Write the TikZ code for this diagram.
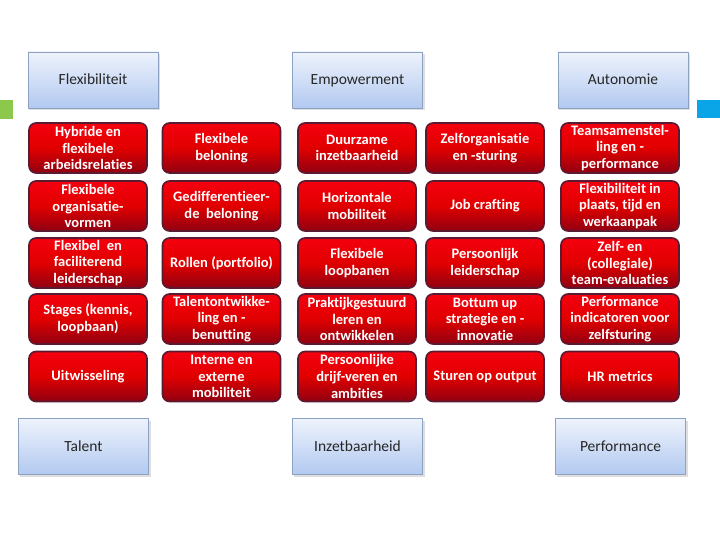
\documentclass[tikz,border=0pt]{standalone}
\usepackage{fontspec}
\setmainfont{Carlito}[Ligatures=NoCommon]
\usetikzlibrary{backgrounds}
\definecolor{redtop}{HTML}{F5000F}
\definecolor{redbot}{HTML}{900012}
\definecolor{redborder}{HTML}{5A1A30}
\definecolor{bluetop}{HTML}{EEF3FC}
\definecolor{bluebot}{HTML}{B2C9F0}
\definecolor{blueborder}{HTML}{8DA2C2}
\definecolor{glowc}{HTML}{8DB8EC}
\definecolor{greensq}{HTML}{8CC84B}
\definecolor{bluesq}{HTML}{0AA5E6}
\tikzset{
  redbox/.style={draw=redborder, line width=1.6pt, rounded corners=7pt,
    top color=redtop, bottom color=redbot, middle color=red!88!black,
    minimum width=118pt, minimum height=50pt, inner sep=0pt,
    text=white, align=center,
    font=\fontsize{14.5}{16.6}\selectfont\bfseries},
  catbox/.style={draw=blueborder, line width=0.8pt,
    top color=bluetop, bottom color=bluebot,
    minimum width=130pt, minimum height=56pt, inner sep=0pt,
    text height=10.5pt, text depth=1pt,
    text=black!85, font=\fontsize{15.5}{18}\selectfont},
}
\begin{document}
\begin{tikzpicture}[x=1pt,y=-1pt]
\useasboundingbox (0,0) rectangle (720,540);
\fill[white] (0,0) rectangle (720,540);
% side squares
\fill[greensq] (0,100) rectangle (13,119) coordinate (gsq);
\fill[bluesq] (697,100) rectangle (720,118) coordinate (bsq);
% category boxes
\foreach \n/\x/\y/\t in {flex/93/80/Flexibiliteit, emp/357.5/80/Empowerment, aut/623/80/Autonomie,
  tal/83.5/446.5/Talent, inz/357.5/446.5/Inzetbaarheid, perf/620.5/446.5/Performance}{
  \fill[black!25,opacity=0.5] (\x-64,\y-26) rectangle (\x+67,\y+30);
  \node[catbox] (\n) at (\x,\y) {\t};
}
% red boxes
\foreach \n/\x/\y/\t in {
  a1/88/148/{Hybride en\\flexibele\\arbeidsrelaties},
  a2/88/206/{Flexibele\\organisatie-\\vormen},
  a3/88/263/{Flexibel\ \ en\\faciliterend\\leiderschap},
  a4/88/319/{Stages (kennis,\\loopbaan)},
  a5/88/376.5/{Uitwisseling},
  b1/221.5/148/{Flexibele\\beloning},
  b2/221.5/206/{Gedifferentieer-\\de\ \ beloning},
  b3/221.5/263/{Rollen (portfolio)},
  b4/221.5/319/{Talentontwikke-\\ling en -\\benutting},
  b5/221.5/376.5/{Interne en\\externe\\mobiliteit},
  c1/357/148/{Duurzame\\inzetbaarheid},
  c2/357/206/{Horizontale\\mobiliteit},
  c3/357/263/{Flexibele\\loopbanen},
  c4/357/319/{Praktijkgestuurd\\leren en\\ontwikkelen},
  c5/357/376.5/{Persoonlijke\\drijf-veren en\\ambities},
  d1/485/148/{Zelforganisatie\\en -sturing},
  d2/485/206/{Job crafting},
  d3/485/263/{Persoonlijk\\leiderschap},
  d4/485/319/{Bottum up\\strategie en -\\innovatie},
  d5/485/376.5/{Sturen op output},
  e1/620/148/{Teamsamenstel-\\ling en -\\performance},
  e2/620/206/{Flexibiliteit in\\plaats, tijd en\\werkaanpak},
  e3/620/263/{Zelf- en\\(collegiale)\\team-evaluaties},
  e4/620/319/{Performance\\indicatoren voor\\zelfsturing},
  e5/620/376.5/{HR metrics}}{
  \node[redbox] (\n) at (\x,\y) {\t};
}
\begin{pgfonlayer}{background}
\foreach \n in {a1,a2,a3,a4,a5,b1,b2,b3,b4,b5,c1,c2,c3,c4,c5,d1,d2,d3,d4,d5,e1,e2,e3,e4,e5}{
  \foreach \r in {10,8,6,4}{
    \fill[glowc, opacity=0.2, rounded corners=9pt]
      ([xshift=-\r pt, yshift=-\r pt]\n.south west) rectangle ([xshift=\r pt, yshift=\r pt]\n.north east);
  }
}
\end{pgfonlayer}
\end{tikzpicture}
\end{document}
